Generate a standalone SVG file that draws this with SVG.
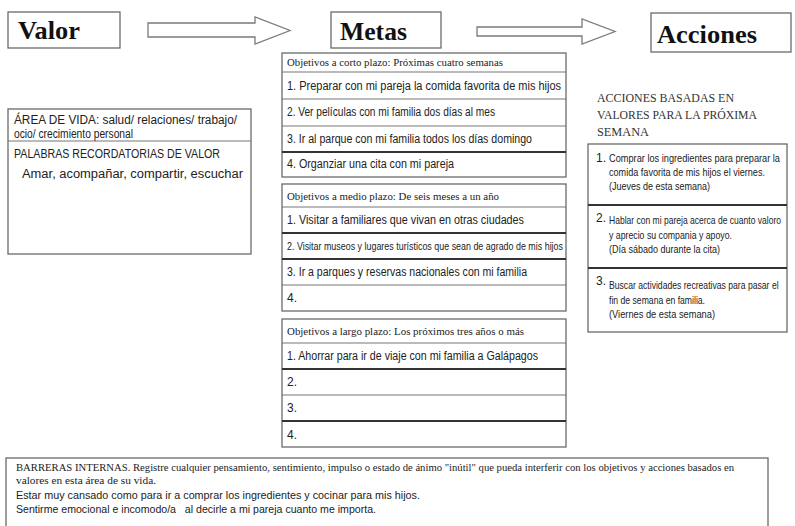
<svg xmlns="http://www.w3.org/2000/svg" width="795" height="526" viewBox="0 0 795 526">
<style>
.box{fill:#fff;stroke:#6a6a6a;stroke-width:1.3}
.div{stroke:#777;stroke-width:1.2}
.thk{stroke:#333;stroke-width:2}
.title{font-family:"Liberation Serif",serif;font-weight:bold;font-size:25px;fill:#111}
.s{font-family:"Liberation Sans",sans-serif;font-size:12px;fill:#222}
.sm{font-family:"Liberation Sans",sans-serif;font-size:10px;fill:#222}
.r{font-family:"Liberation Serif",serif;font-size:11px;fill:#222}
.rh{font-family:"Liberation Serif",serif;font-size:13px;fill:#333}
.arrow{fill:#fff;stroke:#7a7a7a;stroke-width:1.3;stroke-linejoin:miter}
</style>
<rect width="795" height="526" fill="#fff"/>
<g id="connectors">
<polygon class="arrow" points="148,23 255,23 255,17 290,30.5 255,44 255,37 148,37"/>
<polygon class="arrow" points="477,27 582,27 582,19 615,31.5 582,44 582,36 477,36"/>
</g>
<g id="valor">
<rect class="box" x="8" y="12" width="112" height="36"/>
<text class="title" x="18" y="39" textLength="62" lengthAdjust="spacingAndGlyphs">Valor</text>
</g>
<g id="metas">
<rect class="box" x="331" y="12" width="110" height="36"/>
<text class="title" x="340" y="40" textLength="67" lengthAdjust="spacingAndGlyphs">Metas</text>
</g>
<g id="acciones">
<rect class="box" x="651" y="13" width="140" height="39"/>
<text class="title" x="657" y="43" textLength="100" lengthAdjust="spacingAndGlyphs">Acciones</text>
</g>
<g id="area-vida">
<rect class="box" x="8" y="109" width="243" height="145"/>
<line class="div" x1="8" y1="141" x2="251" y2="141"/>
<text class="s" x="14" y="124" textLength="223" lengthAdjust="spacingAndGlyphs">ÁREA DE VIDA: salud/ relaciones/ trabajo/</text>
<text class="s" x="14" y="138" textLength="119" lengthAdjust="spacingAndGlyphs">ocio/ crecimiento personal</text>
<text class="s" x="14" y="158" textLength="206" lengthAdjust="spacingAndGlyphs">PALABRAS RECORDATORIAS DE VALOR</text>
<text class="s" x="22" y="178" textLength="221" lengthAdjust="spacingAndGlyphs">Amar, acompañar, compartir, escuchar</text>
</g>
<g id="corto-plazo">
<rect class="box" x="282" y="53" width="284" height="124"/>
<line class="div" x1="282" y1="72" x2="566" y2="72"/>
<line class="div" x1="282" y1="99" x2="566" y2="99"/>
<line class="div" x1="282" y1="126" x2="566" y2="126"/>
<line class="thk" x1="282" y1="152" x2="566" y2="152"/>
<text class="r" x="287" y="66" textLength="216" lengthAdjust="spacingAndGlyphs">Objetivos a corto plazo: Próximas cuatro semanas</text>
<text class="s" x="287" y="90" textLength="274" lengthAdjust="spacingAndGlyphs">1. Preparar con mi pareja la comida favorita de mis hijos</text>
<text class="s" x="287" y="116" textLength="208" lengthAdjust="spacingAndGlyphs">2. Ver películas con mi familia dos días al mes</text>
<text class="s" x="287" y="143" textLength="245" lengthAdjust="spacingAndGlyphs">3. Ir al parque con mi familia todos los días domingo</text>
<text class="s" x="287" y="168" textLength="167" lengthAdjust="spacingAndGlyphs">4. Organziar una cita con mi pareja</text>
</g>
<g id="medio-plazo">
<rect class="box" x="282" y="184" width="284" height="127"/>
<line class="div" x1="282" y1="207" x2="566" y2="207"/>
<line class="thk" x1="282" y1="233" x2="566" y2="233"/>
<line class="thk" x1="282" y1="259" x2="566" y2="259"/>
<line class="div" x1="282" y1="285" x2="566" y2="285"/>
<text class="r" x="287" y="200" textLength="212" lengthAdjust="spacingAndGlyphs">Objetivos a medio plazo: De seis meses a un año</text>
<text class="s" x="287" y="224" textLength="237" lengthAdjust="spacingAndGlyphs">1. Visitar a familiares que vivan en otras ciudades</text>
<text class="sm" x="287" y="250" textLength="276" lengthAdjust="spacingAndGlyphs">2. Visitar museos y lugares turísticos que sean de agrado de mis hijos</text>
<text class="s" x="287" y="276" textLength="240" lengthAdjust="spacingAndGlyphs">3. Ir a parques y reservas nacionales con mi familia</text>
<text class="s" x="287" y="302">4.</text>
</g>
<g id="largo-plazo">
<rect class="box" x="282" y="319" width="284" height="128"/>
<line class="div" x1="282" y1="343" x2="566" y2="343"/>
<line class="thk" x1="282" y1="369" x2="566" y2="369"/>
<line class="div" x1="282" y1="395" x2="566" y2="395"/>
<line class="thk" x1="282" y1="421" x2="566" y2="421"/>
<text class="r" x="287" y="335" textLength="237" lengthAdjust="spacingAndGlyphs">Objetivos a largo plazo: Los próximos tres años o más</text>
<text class="s" x="287" y="360" textLength="251" lengthAdjust="spacingAndGlyphs">1. Ahorrar para ir de viaje con mi familia a Galápagos</text>
<text class="s" x="287" y="386">2.</text>
<text class="s" x="287" y="412">3.</text>
<text class="s" x="287" y="439">4.</text>
</g>
<g id="acciones-titulo">
<text class="rh" x="597" y="102" textLength="137" lengthAdjust="spacingAndGlyphs">ACCIONES BASADAS EN</text>
<text class="rh" x="597" y="119" textLength="160" lengthAdjust="spacingAndGlyphs">VALORES PARA LA PRÓXIMA</text>
<text class="rh" x="597" y="136" textLength="52" lengthAdjust="spacingAndGlyphs">SEMANA</text>
</g>
<g id="acciones-lista">
<rect class="box" x="588" y="144" width="199" height="188"/>
<line class="thk" x1="588" y1="205" x2="787" y2="205"/>
<line class="thk" x1="588" y1="268" x2="787" y2="268"/>
<text class="s" x="596" y="162">1.</text>
<text class="sm" x="609" y="162" textLength="171" lengthAdjust="spacingAndGlyphs">Comprar los ingredientes para preparar la</text>
<text class="sm" x="609" y="176" textLength="156" lengthAdjust="spacingAndGlyphs">comida favorita de mis hijos el viernes.</text>
<text class="sm" x="609" y="190" textLength="101" lengthAdjust="spacingAndGlyphs">(Jueves de esta semana)</text>
<text class="s" x="596" y="222">2.</text>
<text class="sm" transform="translate(609,224) scale(0.8,1)" x="0" y="0" textLength="215" lengthAdjust="spacingAndGlyphs">Hablar con mi pareja acerca de cuanto valoro</text>
<text class="sm" x="609" y="239" textLength="123" lengthAdjust="spacingAndGlyphs">y aprecio su compania y apoyo.</text>
<text class="sm" x="609" y="253" textLength="111" lengthAdjust="spacingAndGlyphs">(Día sábado durante la cita)</text>
<text class="s" x="596" y="285">3.</text>
<text class="sm" transform="translate(609,289) scale(0.8,1)" x="0" y="0" textLength="212" lengthAdjust="spacingAndGlyphs">Buscar actividades recreativas para pasar el</text>
<text class="sm" x="609" y="304" textLength="96" lengthAdjust="spacingAndGlyphs">fin de semana en familia.</text>
<text class="sm" x="609" y="318" textLength="106" lengthAdjust="spacingAndGlyphs">(Viernes de esta semana)</text>
</g>
<g id="barreras">
<rect class="box" x="6" y="458" width="762" height="80"/>
<text class="r" x="16" y="471" textLength="718" lengthAdjust="spacingAndGlyphs">BARRERAS INTERNAS. Registre cualquier pensamiento, sentimiento, impulso o estado de ánimo "inútil" que pueda interferir con los objetivos y acciones basados en</text>
<text class="r" x="16" y="484" textLength="140" lengthAdjust="spacingAndGlyphs">valores en esta área de su vida.</text>
<text class="sm" x="16" y="499" textLength="404" lengthAdjust="spacingAndGlyphs">Estar muy cansado como para ir a comprar los ingredientes y cocinar para mis hijos.</text>
<text class="sm" x="16" y="513" textLength="360" lengthAdjust="spacingAndGlyphs" xml:space="preserve">Sentirme emocional e incomodo/a   al decirle a mi pareja cuanto me importa.</text>
</g>
</svg>
